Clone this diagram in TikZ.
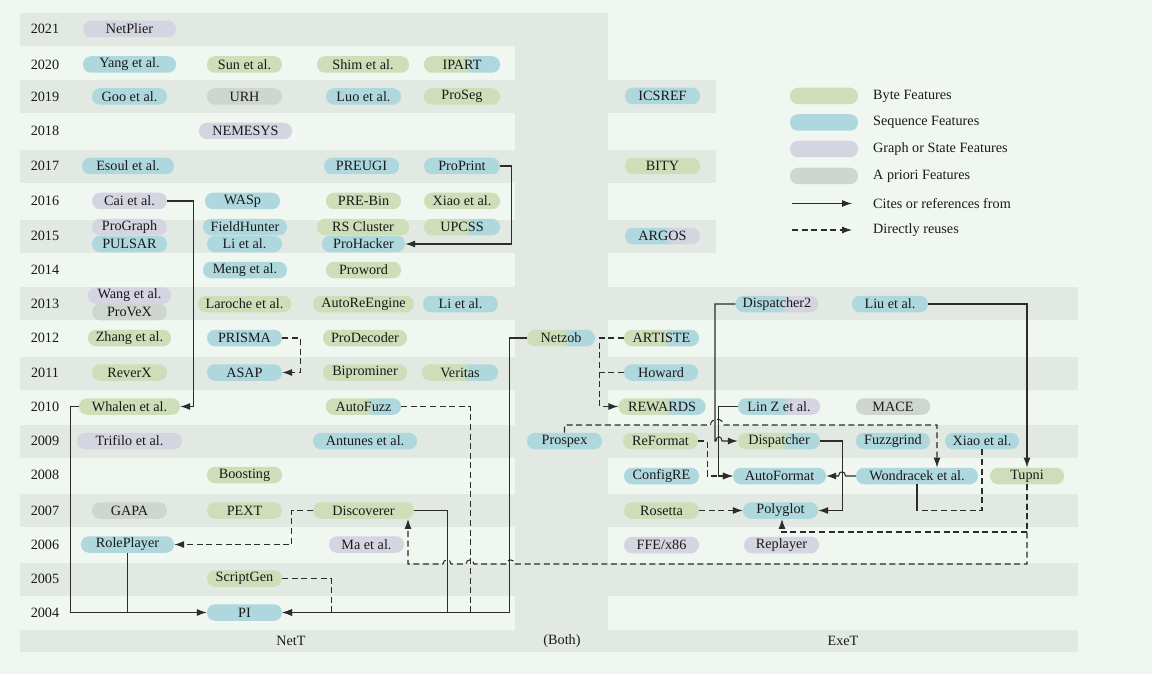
\documentclass[tikz,border=0pt]{standalone}
\usepackage{fontspec}
\setmainfont{Liberation Serif}
\usetikzlibrary{arrows.meta}
\definecolor{bg}{HTML}{F0F6F0}
\definecolor{band}{HTML}{E2E9E2}
\definecolor{cByte}{HTML}{CDDEB8}
\definecolor{cSeq}{HTML}{AED8DD}
\definecolor{cGraph}{HTML}{D5D4E1}
\definecolor{cApri}{HTML}{CFD5CF}
\definecolor{ink}{HTML}{2A2D2A}
\definecolor{txt}{HTML}{1A1A1A}
\pgfdeclarehorizontalshading{gbshade}{100bp}{color(0bp)=(cByte); color(51bp)=(cByte); color(57bp)=(cSeq); color(100bp)=(cSeq)}
\pgfdeclarehorizontalshading{bpshade}{100bp}{color(0bp)=(cSeq); color(51bp)=(cSeq); color(57bp)=(cGraph); color(100bp)=(cGraph)}
\newcommand{\nfont}{\fontsize{14.2}{16}\selectfont}
\begin{document}
\begin{tikzpicture}[x=1pt,y=-1pt,
  pill/.style={rounded corners=8pt, minimum height=16.5pt, inner sep=0pt, font=\nfont, text=txt},
  mw/.style={minimum width=#1pt},
  byte/.style={pill, fill=cByte},
  seq/.style={pill, fill=cSeq},
  graph/.style={pill, fill=cGraph},
  apri/.style={pill, fill=cApri},
  gb/.style={pill, shading=gbshade},
  bp/.style={pill, shading=bpshade},
  lbl/.style={font=\nfont, text=txt, inner sep=0pt},
  cite/.style={draw=ink, line width=1.05pt, -{Latex[length=10pt,width=7pt]}},
  reuse/.style={cite, dash pattern=on 6pt off 3.6pt}
]
\useasboundingbox (0,0) rectangle (1152,674);
\fill[bg] (0,0) rectangle (1152,674);
% bands NetT
\foreach \a/\b in {13/46, 80/113, 150/183, 220/253, 287/320, 357/390, 425/458, 494/527, 563/596}
  \fill[band] (20,\a) rectangle (608,\b);
\fill[band] (515,13) rectangle (608,630);
\fill[band] (20,630) rectangle (1078,652);
% bands ExeT
\foreach \a/\b in {80/113, 150/183, 220/253}
  \fill[band] (608,\a) rectangle (716,\b);
\foreach \a/\b in {287/320, 357/390, 425/458, 494/527, 563/596}
  \fill[band] (608,\a) rectangle (1078,\b);

% year labels
\foreach \yr/\yy in {2021/29, 2020/64.5, 2019/96.5, 2018/131, 2017/166, 2016/201, 2015/235.5, 2014/270, 2013/303.5, 2012/338, 2011/372.5, 2010/406.5, 2009/441, 2008/475, 2007/510.5, 2006/544.5, 2005/578.5, 2004/612.5}
  \node[lbl] (y\yr) at (45,\yy) {\yr};
\node[lbl] (lNetT) at (291,641) {NetT};
\node[lbl] (lBoth) at (562,641) {(Both)};
\node[lbl] (lExeT) at (843,641) {ExeT};

% NetT nodes
\node[graph,mw=93] (NetPlier) at (129.5,29) {NetPlier};
\node[seq,mw=93] (Yang) at (129.5,64.5) {Yang et al.};
\node[byte,mw=75] (Sun) at (244.5,64.5) {Sun et al.};
\node[byte,mw=92] (Shim) at (363,64.5) {Shim et al.};
\node[gb,mw=76] (IPART) at (462,64.5) {IPART};
\node[seq,mw=75] (Goo) at (129.5,96.5) {Goo et al.};
\node[apri,mw=75] (URH) at (244.5,96.5) {URH};
\node[seq,mw=75] (Luo) at (363.5,96.5) {Luo et al.};
\node[byte,mw=76] (ProSeg) at (462,96.5) {ProSeg};
\node[graph,mw=93] (NEMESYS) at (245.5,131) {NEMESYS};
\node[seq,mw=92] (Esoul) at (128,166) {Esoul et al.};
\node[seq,mw=75] (PREUGI) at (361.5,166) {PREUGI};
\node[seq,mw=76] (ProPrint) at (462,166) {ProPrint};
\node[graph,mw=75] (Cai) at (129.5,201) {Cai et al.};
\node[seq,mw=75] (WASp) at (242.5,201) {WASp};
\node[byte,mw=75] (PREBin) at (363.5,201) {PRE-Bin};
\node[byte,mw=76] (Xiao16) at (462,201) {Xiao et al.};
\node[graph,mw=75] (ProGraph) at (129.5,227) {ProGraph};
\node[seq,mw=75] (PULSAR) at (129.5,244) {PULSAR};
\node[seq,mw=84] (FieldHunter) at (245,227) {FieldHunter};
\node[seq,mw=75] (Li15) at (244.5,244) {Li et al.};
\node[byte,mw=92] (RSCluster) at (363,227) {RS Cluster};
\node[seq,mw=83] (ProHacker) at (363.5,244) {ProHacker};
\node[gb,mw=76] (UPCSS) at (462,227) {UPCSS};
\node[seq,mw=84] (Meng) at (245,270) {Meng et al.};
\node[byte,mw=75] (Proword) at (363.5,270) {Proword};
\node[graph,mw=83] (Wang) at (129.5,295.5) {Wang et al.};
\node[apri,mw=75] (ProVeX) at (129.5,312) {ProVeX};
\node[byte,mw=93] (Laroche) at (244.5,304) {Laroche et al.};
\node[byte,mw=101] (AutoReEngine) at (363.5,304) {AutoReEngine};
\node[seq,mw=75] (Li13) at (460.5,304) {Li et al.};
\node[byte,mw=83] (Zhang) at (129.5,338) {Zhang et al.};
\node[seq,mw=75] (PRISMA) at (244.5,338) {PRISMA};
\node[byte,mw=84] (ProDecoder) at (365,338) {ProDecoder};
\node[byte,mw=75] (ReverX) at (129.5,372.5) {ReverX};
\node[seq,mw=75] (ASAP) at (244.5,372.5) {ASAP};
\node[byte,mw=84] (Biprominer) at (365,372.5) {Biprominer};
\node[gb,mw=76] (Veritas) at (460,372.5) {Veritas};
\node[byte,mw=101] (Whalen) at (129.5,406.5) {Whalen et al.};
\node[gb,mw=75] (AutoFuzz) at (363.5,406.5) {AutoFuzz};
\node[graph,mw=105] (Trifilo) at (129.5,441) {Trifilo et al.};
\node[seq,mw=104] (Antunes) at (365,441) {Antunes et al.};
\node[byte,mw=75] (Boosting) at (244.5,475) {Boosting};
\node[apri,mw=75] (GAPA) at (129.5,510.5) {GAPA};
\node[byte,mw=75] (PEXT) at (244.5,510.5) {PEXT};
\node[byte,mw=101] (Discoverer) at (363.5,510.5) {Discoverer};
\node[seq,mw=93] (RolePlayer) at (127.5,544.5) {RolePlayer};
\node[graph,mw=75] (Ma) at (366.5,544.5) {Ma et al.};
\node[byte,mw=75] (ScriptGen) at (244.5,578.5) {ScriptGen};
\node[seq,mw=75] (PI) at (244.5,612.5) {PI};

% Both
\node[gb,mw=68] (Netzob) at (561,338) {Netzob};
\node[seq,mw=75] (Prospex) at (564.5,441) {Prospex};

% ExeT
\node[seq,mw=75] (ICSREF) at (662.5,96) {ICSREF};
\node[byte,mw=75] (BITY) at (662.5,166) {BITY};
\node[bp,mw=75] (ARGOS) at (662.5,236) {ARGOS};
\node[bp,mw=83] (Dispatcher2) at (777,304) {Dispatcher2};
\node[seq,mw=76] (Liu) at (890,304) {Liu et al.};
\node[gb,mw=75] (ARTISTE) at (661.5,338) {ARTISTE};
\node[seq,mw=74] (Howard) at (661,372.5) {Howard};
\node[gb,mw=87] (REWARDS) at (662,406.5) {REWARDS};
\node[bp,mw=82] (LinZ) at (779,406.5) {Lin Z et al.};
\node[apri,mw=74] (MACE) at (893,406.5) {MACE};
\node[byte,mw=75] (ReFormat) at (660.5,441) {ReFormat};
\node[gb,mw=82] (Dispatcher) at (779,441) {Dispatcher};
\node[seq,mw=74] (Fuzzgrind) at (893,441) {Fuzzgrind};
\node[seq,mw=74] (Xiao09) at (982,441) {Xiao et al.};
\node[seq,mw=75] (ConfigRE) at (661.5,476) {ConfigRE};
\node[seq,mw=93] (AutoFormat) at (779.5,476) {AutoFormat};
\node[seq,mw=122] (Wondracek) at (917,476) {Wondracek et al.};
\node[byte,mw=74] (Tupni) at (1027,476) {Tupni};
\node[byte,mw=75] (Rosetta) at (661.5,510.5) {Rosetta};
\node[seq,mw=75] (Polyglot) at (780.5,510.5) {Polyglot};
\node[graph,mw=75] (FFE) at (661.5,545) {FFE/x86};
\node[graph,mw=75] (Replayer) at (781.5,545) {Replayer};

% legend
\node[byte,mw=68] (lgByte) at (824,96) {};
\node[seq,mw=68] (lgSeq) at (824,122.5) {};
\node[graph,mw=68] (lgGraph) at (824,149) {};
\node[apri,mw=68] (lgApri) at (824,176) {};
\node[lbl,anchor=west] (ltByte) at (873,96) {Byte Features};
\node[lbl,anchor=west] (ltSeq) at (873,122.5) {Sequence Features};
\node[lbl,anchor=west] (ltGraph) at (873,149) {Graph or State Features};
\node[lbl,anchor=west] (ltApri) at (873,176) {A priori Features};
\node[lbl,anchor=west] (ltCite) at (873,203.5) {Cites or references from};
\node[lbl,anchor=west] (ltReuse) at (873,230) {Directly reuses};
\coordinate (lc1) at (792,203.5);
\coordinate (lc2) at (852,203.5);
\coordinate (lr1) at (792,230);
\coordinate (lr2) at (852,230);
\draw[cite] (lc1) -- (lc2);
\draw[reuse] (lr1) -- (lr2);

% dashed connectors
\draw[reuse] (PRISMA.east) -- ++(18,0) |- (ASAP.east);
\draw[reuse] (Discoverer.west) -- ++(-21,0) |- (RolePlayer.east);
\draw[reuse,-] (ScriptGen.east) -- ++(49,0) coordinate (jS) -- (jS |- PI.east);
\draw[reuse,-] (AutoFuzz.east) -- ++(69,0) coordinate (jF) -- (jF |- PI.east);
\coordinate (jD) at (408,564);
\draw[reuse] (Tupni.south) |- (514.5,564) .. controls (514.5,558.5) and (506.5,558.5) .. (506.5,564)
  -- (474,564) .. controls (474,558.5) and (466,558.5) .. (466,564)
  -- (451,564) .. controls (451,558.5) and (443,558.5) .. (443,564)
  -- (jD) -- (jD |- Discoverer.south);
\coordinate (jP) at (782,532);
\draw[reuse] (Tupni.south) |- (jP) -- (jP |- Polyglot.south);
\coordinate (jW) at (937,425);
\draw[reuse] (Prospex.north) |- (710.5,425) .. controls (710.5,417.5) and (723.5,417.5) .. (723.5,425)
  -- (jW) -- (jW |- Wondracek.north);
\draw[reuse] (ReFormat.east) -- ++(9,0) |- (AutoFormat.west);
\draw[reuse] (Rosetta.east) -- (Polyglot.west);
\draw[reuse,-] (Xiao09.south) |- (Wondracek.south |- Polyglot.east);
\draw[reuse] (ARTISTE.west) -- ++(-24,0) |- (REWARDS.west);
\draw[reuse,-] (Howard.west) -- ++(-24,0);

% solid connectors
\draw[cite] (ProPrint.east) -- ++(11,0) |- (ProHacker.east);
\draw[cite] (Cai.east) -- ++(26,0) |- (Whalen.east);
\draw[cite] (Whalen.west) -- ++(-8,0) |- (PI.west);
\draw[cite,-] (RolePlayer.south) -- (RolePlayer.south |- PI.west);
\draw[cite] (Discoverer.east) -- ++(33,0) |- (PI.east);
\draw[cite] (Netzob.west) -- ++(-17,0) |- (PI.east);
\draw[cite] (Liu.east) -| (Tupni.north);
\draw[cite] (Dispatcher2.west) -| (715,441) -- (716,441) .. controls (716,435.5) and (722,435.5) .. (722,441) -- (Dispatcher.west);
\draw[cite] (LinZ.west) -- ++(-19,0) |- (AutoFormat.west);
\draw[cite] (Wondracek.west) -- (845.5,476) .. controls (845.5,470.5) and (838.5,470.5) .. (838.5,476) -- (AutoFormat.east);
\draw[cite] (Dispatcher.east) -- ++(22,0) |- (Polyglot.east);
\draw[cite,-] (Wondracek.south) -- (Wondracek.south |- Polyglot.east);
\end{tikzpicture}
\end{document}
